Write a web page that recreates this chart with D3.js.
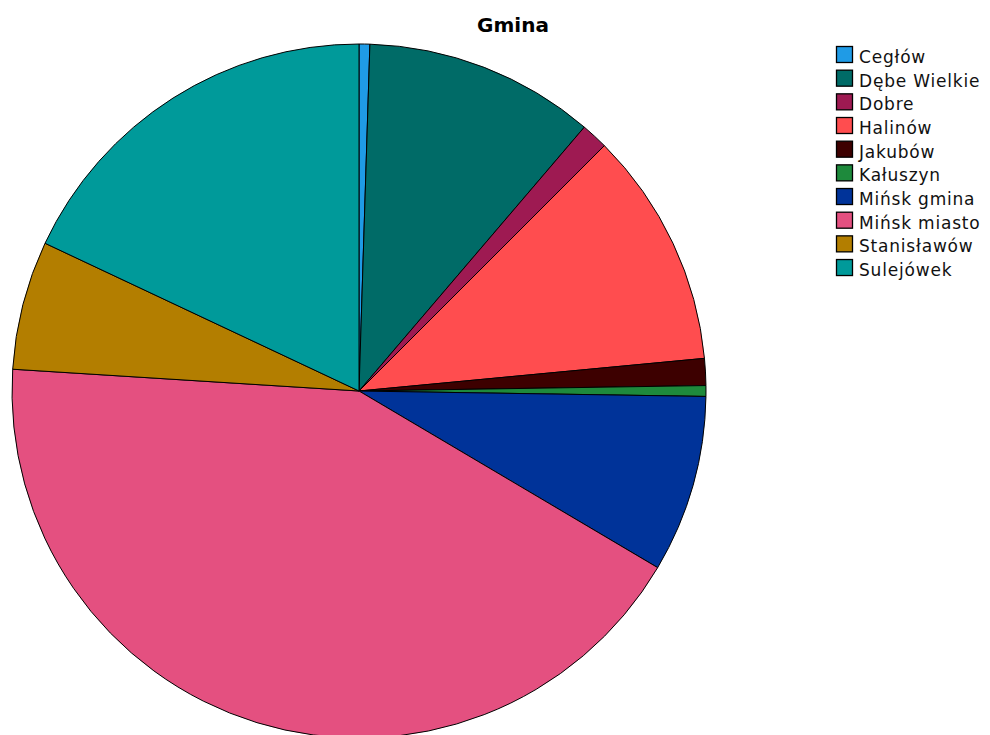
<!DOCTYPE html>
<html><head><meta charset="utf-8">
<script src="https://cdn.jsdelivr.net/npm/d3@7"></script>
<style>body{margin:0;background:#fff}svg{display:block}</style>
</head><body>
<svg id="c" width="990" height="735"></svg>
<script>
const categories = ["Cegłów","Dębe Wielkie","Dobre","Halinów","Jakubów","Kałuszyn","Mińsk gmina","Mińsk miasto","Stanisławów","Sulejówek"];
const values = [2, 43, 5, 44, 5, 2, 33, 170, 24, 72];
const colors = ["#1f9be6","#006b67","#9e1a52","#ff4d4f","#3d0000","#1e8a3c","#003399","#e45080","#b37e00","#009a9a"];
const title = "Gmina";

const svg = d3.select("#c");
const cx = 359, cy = 391, r = 347;
const data = categories.map((c,i)=>({name:c, value:values[i]}));
const pie = d3.pie().value(d=>d.value).sort(null);
const arc = d3.arc().innerRadius(0).outerRadius(r);
const color = d3.scaleOrdinal().domain(categories).range(colors);

svg.append("g").attr("transform",`translate(${cx},${cy})`)
  .selectAll("path").data(pie(data)).join("path")
  .attr("d",arc).attr("fill",d=>color(d.data.name))
  .attr("stroke","#000").attr("stroke-width",1).attr("stroke-linejoin","round");

svg.append("text").attr("x",513).attr("y",32).attr("text-anchor","middle")
  .attr("font-family","DejaVu Sans").attr("font-weight","bold").attr("font-size",20)
  .text(title);

const y = d3.scaleBand().domain(categories).range([46, 282.7]);
const lg = svg.append("g");
const row = lg.selectAll("g").data(categories).join("g")
  .attr("transform",d=>`translate(836.5,${y(d)})`);
row.append("rect").attr("x",0).attr("y",0.5).attr("width",16).attr("height",16)
  .attr("fill",d=>color(d)).attr("stroke","#000").attr("stroke-width",1.3);
row.append("text").attr("x",22.5).attr("y",17)
  .attr("font-family","DejaVu Sans").attr("font-size",17).attr("letter-spacing",0.8).attr("fill","#111")
  .text(d=>d);
</script>
</body></html>
